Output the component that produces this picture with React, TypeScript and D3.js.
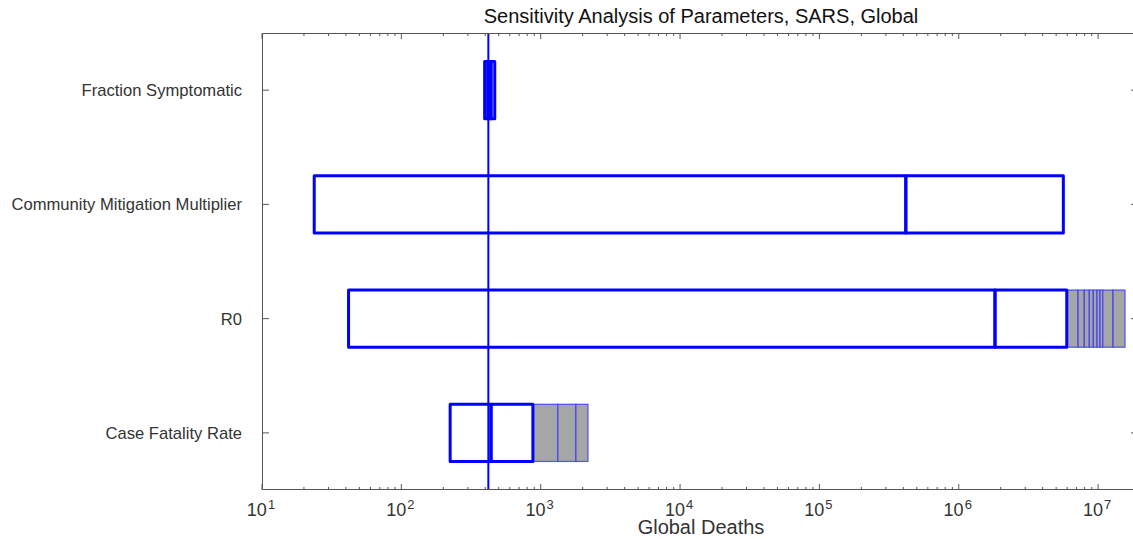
import React from 'react';
import * as d3 from 'd3';

const categories = ['Fraction Symptomatic', 'Community Mitigation Multiplier', 'R0', 'Case Fatality Rate'];
const baselineDeaths = 421;

// edges of the white boxes, per parameter
const fractionSymptomatic = [396, 418, 440, 468];
const communityMitigation = [23.7, 417000, 5.63e6];
const r0Values = [41.8, 1.82e6, 5.96e6];
const caseFatality = [224, 440, 879];

// edges of the grey boxes
const fractionSymptomaticGrey: number[] = [];
const communityMitigationGrey: number[] = [];
const r0Grey = [5.96e6, 7.18e6, 7.96e6, 8.65e6, 9.24e6, 9.82e6, 1.032e7, 1.08e7, 1.28e7, 1.56e7];
const caseFatalityGrey = [879, 1328, 1789, 2183];

const tickExponents = [1, 2, 3, 4, 5, 6, 7];

const boxes = [fractionSymptomatic, communityMitigation, r0Values, caseFatality];
const greyBoxes = [fractionSymptomaticGrey, communityMitigationGrey, r0Grey, caseFatalityGrey];

const font = '"Liberation Sans", Arial, Helvetica, sans-serif';

export default function App() {
  const width = 1133;
  const height = 539;
  const margin = { top: 33, right: 0, bottom: 49, left: 262 };
  const x0 = margin.left;
  const x1 = width - margin.right;
  const y0 = margin.top;
  const y1 = height - margin.bottom;

  const x = d3.scaleLog().domain([10, 1.78e7]).range([x0, x1]);
  const y = d3.scaleBand().domain(categories).range([y0, y1]);
  const boxH = y.bandwidth() * 0.5;

  // minor ticks
  const minor: number[] = [];
  tickExponents.forEach((e) => {
    for (let k = 2; k <= 9; k++) {
      const v = k * Math.pow(10, e);
      if (v < 1.78e7) minor.push(v);
    }
  });

  const segs = (edges: number[]) => d3.pairs(edges);

  return (
    <div style={{ position: 'absolute', left: 0, top: 0 }}>
      <svg width={width} height={height} style={{ display: 'block', background: '#fff' }} fontFamily={font}>
        {/* grey segments */}
        {greyBoxes.map((edges, i) => {
          const cy = y(categories[i])! + y.bandwidth() / 2;
          return segs(edges).map(([a, b], j) => (
            <rect key={`g${i}-${j}`} x={x(a)} y={cy - boxH / 2} width={x(b) - x(a)} height={boxH}
              fill="#a6a6a6" stroke="#3a3aff" strokeOpacity={0.8} strokeWidth={1.3} />
          ));
        })}
        {/* white boxes */}
        {boxes.map((edges, i) => {
          const cy = y(categories[i])! + y.bandwidth() / 2;
          return segs(edges).map(([a, b], j) => (
            <rect key={`b${i}-${j}`} x={x(a)} y={cy - boxH / 2} width={x(b) - x(a)} height={boxH}
              fill="none" stroke="#0000ff" strokeWidth={3} strokeLinejoin="round" />
          ));
        })}
        {/* baseline */}
        <line x1={x(baselineDeaths)} x2={x(baselineDeaths)} y1={y0} y2={y1} stroke="#0000ff" strokeWidth={2} />

        {/* frame */}
        <path d={`M${x1},${y0 + 0.5}H${x0 + 0.5}V${y1 - 0.5}H${x1}`} fill="none" stroke="#555" strokeWidth={1} />

        {/* x ticks */}
        {minor.map((v) => (
          <g key={`m${v}`} stroke="#555">
            <line x1={x(v)} x2={x(v)} y1={y1} y2={y1 - 3} />
            <line x1={x(v)} x2={x(v)} y1={y0} y2={y0 + 3} />
          </g>
        ))}
        {tickExponents.map((e) => {
          const tx = x(Math.pow(10, e));
          return (
            <g key={`t${e}`}>
              <line x1={tx} x2={tx} y1={y1} y2={y1 - 6} stroke="#555" />
              <line x1={tx} x2={tx} y1={y0} y2={y0 + 6} stroke="#555" />
              <text x={tx - 1} y={516} textAnchor="middle" fill="#333" fontSize={18}>
                10<tspan fontSize={13} dy={-7} dx={1}>{e}</tspan>
              </text>
            </g>
          );
        })}

        {/* y ticks and labels */}
        {categories.map((c) => {
          const cy = y(c)! + y.bandwidth() / 2;
          return (
            <g key={c}>
              <line x1={x0} x2={x0 + 7} y1={cy} y2={cy} stroke="#555" />
              <line x1={x1 - 2} x2={x1} y1={cy} y2={cy} stroke="#555" />
              <text x={242} y={cy + 6} textAnchor="end" fill="#333" fontSize={16.6}>{c}</text>
            </g>
          );
        })}

        <text x={701} y={534} textAnchor="middle" fill="#333" fontSize={20}>Global Deaths</text>
        <text x={701} y={23} textAnchor="middle" fill="#111" fontSize={20}>Sensitivity Analysis of Parameters, SARS, Global</text>
      </svg>
    </div>
  );
}
